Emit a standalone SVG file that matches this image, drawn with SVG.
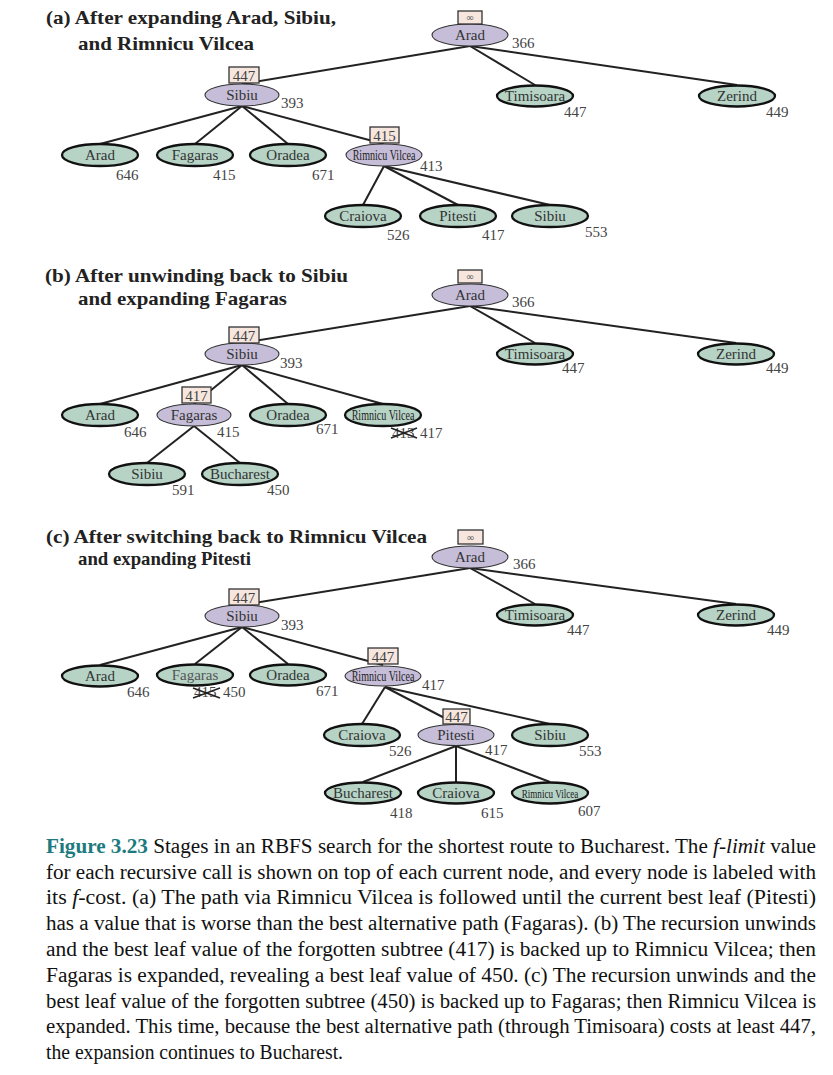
<svg xmlns="http://www.w3.org/2000/svg" width="833" height="1075" viewBox="0 0 833 1075">
<style>
.bg{fill:#ffffff}
.title{font-family:"Liberation Serif","Times New Roman",serif;font-weight:bold;font-size:19px;fill:#222}
.exp{fill:#c6bdd8;stroke:#333;stroke-width:1.1}
.leaf{fill:#b6d3c6;stroke:#111;stroke-width:2.3}
.lbl{font-family:"Liberation Serif","Times New Roman",serif;font-size:15px;fill:#333;text-anchor:middle}
.rv{font-family:"Liberation Serif","Times New Roman",serif;font-size:14px;fill:#222;text-anchor:middle}
.num{font-family:"Liberation Serif","Times New Roman",serif;font-size:15px;fill:#444}
.box{fill:#f6e6de;stroke:#333;stroke-width:1.3}
.boxt{font-family:"Liberation Serif","Times New Roman",serif;font-size:15px;fill:#444;text-anchor:middle}
.inf{font-family:"DejaVu Sans",sans-serif;font-size:10px;fill:#555;text-anchor:middle}
.edge{stroke:#222;stroke-width:2;fill:none}
.x{stroke:#222;stroke-width:1.6}
.cap{font-family:"Liberation Serif","Times New Roman",serif;font-size:20px;fill:#111}
.fig{font-weight:bold;fill:#1d7a7e}
</style>
<rect class="bg" x="0" y="0" width="833" height="1075"/>

<!-- ===== Panel (a) ===== -->
<g id="title-a">
<text class="title" x="46" y="24" textLength="290" lengthAdjust="spacingAndGlyphs">(a) After expanding Arad, Sibiu,</text>
<text class="title" x="78" y="50" textLength="176" lengthAdjust="spacingAndGlyphs">and Rimnicu Vilcea</text>
</g>
<g id="edges-a">
<line class="edge" x1="470" y1="46" x2="242" y2="84"/>
<line class="edge" x1="470" y1="46" x2="535" y2="85"/>
<line class="edge" x1="470" y1="46" x2="737" y2="85"/>
<line class="edge" x1="242" y1="106" x2="100" y2="144"/>
<line class="edge" x1="242" y1="106" x2="195" y2="144"/>
<line class="edge" x1="242" y1="106" x2="288" y2="144"/>
<line class="edge" x1="242" y1="106" x2="384" y2="144"/>
<line class="edge" x1="384" y1="166" x2="363" y2="205"/>
<line class="edge" x1="384" y1="166" x2="458" y2="205"/>
<line class="edge" x1="384" y1="166" x2="550" y2="205"/>
</g>
<g id="a-arad">
<ellipse class="exp" cx="470" cy="35" rx="38" ry="11"/>
<text class="lbl" x="470" y="40">Arad</text>
<rect class="box" x="458" y="11" width="24" height="13"/>
<text class="inf" x="470" y="21">∞</text>
<text class="num" x="512" y="48">366</text>
</g>
<g id="a-sibiu">
<ellipse class="exp" cx="242" cy="95" rx="37" ry="11"/>
<text class="lbl" x="242" y="100">Sibiu</text>
<rect class="box" x="229" y="67" width="30" height="16"/>
<text class="boxt" x="244" y="80.5">447</text>
<text class="num" x="281" y="108">393</text>
</g>
<g id="a-timisoara">
<ellipse class="leaf" cx="535" cy="96" rx="38" ry="10.5"/>
<text class="lbl" x="535" y="101">Timisoara</text>
<text class="num" x="564" y="117">447</text>
</g>
<g id="a-zerind">
<ellipse class="leaf" cx="737" cy="96" rx="38" ry="10.5"/>
<text class="lbl" x="737" y="101">Zerind</text>
<text class="num" x="766" y="117">449</text>
</g>
<g id="a-arad2">
<ellipse class="leaf" cx="100" cy="155" rx="38" ry="11"/>
<text class="lbl" x="100" y="160">Arad</text>
<text class="num" x="116" y="180">646</text>
</g>
<g id="a-fagaras">
<ellipse class="leaf" cx="195" cy="155" rx="38" ry="11"/>
<text class="lbl" x="195" y="160">Fagaras</text>
<text class="num" x="213" y="180">415</text>
</g>
<g id="a-oradea">
<ellipse class="leaf" cx="288" cy="155" rx="38" ry="11"/>
<text class="lbl" x="288" y="160">Oradea</text>
<text class="num" x="312" y="180">671</text>
</g>
<g id="a-rimnicu">
<ellipse class="exp" cx="384" cy="155" rx="38" ry="11"/>
<text class="rv" transform="translate(384 159.5) scale(0.72 1)" x="0" y="0">Rimnicu Vilcea</text>
<rect class="box" x="370" y="127" width="29" height="16"/>
<text class="boxt" x="384.5" y="140.5">415</text>
<text class="num" x="420" y="171">413</text>
</g>
<g id="a-craiova">
<ellipse class="leaf" cx="363" cy="216" rx="38" ry="11"/>
<text class="lbl" x="363" y="221">Craiova</text>
<text class="num" x="387" y="240">526</text>
</g>
<g id="a-pitesti">
<ellipse class="leaf" cx="458" cy="216" rx="38" ry="11"/>
<text class="lbl" x="458" y="221">Pitesti</text>
<text class="num" x="482" y="240">417</text>
</g>
<g id="a-sibiu2">
<ellipse class="leaf" cx="550" cy="216" rx="38" ry="11"/>
<text class="lbl" x="550" y="221">Sibiu</text>
<text class="num" x="585" y="237">553</text>
</g>

<!-- ===== Panel (b) ===== -->
<g id="title-b">
<text class="title" x="45" y="282" textLength="303" lengthAdjust="spacingAndGlyphs">(b) After unwinding back to Sibiu</text>
<text class="title" x="78" y="305" textLength="209" lengthAdjust="spacingAndGlyphs">and expanding Fagaras</text>
</g>
<g id="edges-b">
<line class="edge" x1="470" y1="306" x2="242" y2="343"/>
<line class="edge" x1="470" y1="306" x2="535" y2="343"/>
<line class="edge" x1="470" y1="306" x2="736" y2="343"/>
<line class="edge" x1="242" y1="365" x2="100" y2="404"/>
<line class="edge" x1="242" y1="365" x2="194" y2="404"/>
<line class="edge" x1="242" y1="365" x2="288" y2="404"/>
<line class="edge" x1="242" y1="365" x2="383" y2="404"/>
<line class="edge" x1="194" y1="426" x2="147" y2="463"/>
<line class="edge" x1="194" y1="426" x2="240" y2="463"/>
</g>
<g id="b-arad">
<ellipse class="exp" cx="470" cy="295" rx="38" ry="11"/>
<text class="lbl" x="470" y="300">Arad</text>
<rect class="box" x="458" y="270" width="24" height="13"/>
<text class="inf" x="470" y="280">∞</text>
<text class="num" x="512" y="307">366</text>
</g>
<g id="b-sibiu">
<ellipse class="exp" cx="242" cy="354" rx="37" ry="11"/>
<text class="lbl" x="242" y="359">Sibiu</text>
<rect class="box" x="229" y="327" width="30" height="16"/>
<text class="boxt" x="244" y="340.5">447</text>
<text class="num" x="280" y="368">393</text>
</g>
<g id="b-timisoara">
<ellipse class="leaf" cx="535" cy="354" rx="38" ry="10.5"/>
<text class="lbl" x="535" y="359">Timisoara</text>
<text class="num" x="562" y="373">447</text>
</g>
<g id="b-zerind">
<ellipse class="leaf" cx="736" cy="354" rx="38" ry="10.5"/>
<text class="lbl" x="736" y="359">Zerind</text>
<text class="num" x="766" y="373">449</text>
</g>
<g id="b-arad2">
<ellipse class="leaf" cx="100" cy="415" rx="38" ry="11"/>
<text class="lbl" x="100" y="420">Arad</text>
<text class="num" x="124" y="437">646</text>
</g>
<g id="b-fagaras">
<ellipse class="exp" cx="194" cy="415" rx="37" ry="11"/>
<text class="lbl" x="194" y="420">Fagaras</text>
<rect class="box" x="182" y="387" width="29" height="16"/>
<text class="boxt" x="196.5" y="400.5">417</text>
<text class="num" x="217" y="437">415</text>
</g>
<g id="b-oradea">
<ellipse class="leaf" cx="288" cy="415" rx="38" ry="11"/>
<text class="lbl" x="288" y="420">Oradea</text>
<text class="num" x="316" y="434">671</text>
</g>
<g id="b-rimnicu">
<ellipse class="leaf" cx="383" cy="415" rx="38" ry="11"/>
<text class="rv" transform="translate(383 419.5) scale(0.72 1)" x="0" y="0">Rimnicu Vilcea</text>
<text class="num" x="392" y="438">413</text>
<line class="x" x1="391" y1="428" x2="417" y2="438"/>
<line class="x" x1="391" y1="438" x2="417" y2="428"/>
<text class="num" x="420" y="438">417</text>
</g>
<g id="b-sibiu2">
<ellipse class="leaf" cx="147" cy="474" rx="38" ry="11"/>
<text class="lbl" x="147" y="479">Sibiu</text>
<text class="num" x="172" y="495">591</text>
</g>
<g id="b-bucharest">
<ellipse class="leaf" cx="240" cy="474" rx="38" ry="11"/>
<text class="lbl" x="240" y="479">Bucharest</text>
<text class="num" x="267" y="495">450</text>
</g>

<!-- ===== Panel (c) ===== -->
<g id="title-c">
<text class="title" x="46" y="543" textLength="381" lengthAdjust="spacingAndGlyphs">(c) After switching back to Rimnicu Vilcea</text>
<text class="title" x="78" y="565" textLength="173" lengthAdjust="spacingAndGlyphs">and expanding Pitesti</text>
</g>
<g id="edges-c">
<line class="edge" x1="470" y1="568" x2="242" y2="605"/>
<line class="edge" x1="470" y1="568" x2="535" y2="604"/>
<line class="edge" x1="470" y1="568" x2="736" y2="604"/>
<line class="edge" x1="242" y1="627" x2="100" y2="665"/>
<line class="edge" x1="242" y1="627" x2="195" y2="664"/>
<line class="edge" x1="242" y1="627" x2="288" y2="664"/>
<line class="edge" x1="242" y1="627" x2="383" y2="665"/>
<line class="edge" x1="385" y1="687" x2="362" y2="724"/>
<line class="edge" x1="385" y1="687" x2="456" y2="724"/>
<line class="edge" x1="385" y1="687" x2="550" y2="724"/>
<line class="edge" x1="456" y1="746" x2="363" y2="782"/>
<line class="edge" x1="456" y1="746" x2="456" y2="782"/>
<line class="edge" x1="456" y1="746" x2="550" y2="782"/>
</g>
<g id="c-arad">
<ellipse class="exp" cx="470" cy="557" rx="38" ry="11"/>
<text class="lbl" x="470" y="562">Arad</text>
<rect class="box" x="458" y="530" width="25" height="14"/>
<text class="inf" x="470.5" y="541">∞</text>
<text class="num" x="513" y="569">366</text>
</g>
<g id="c-sibiu">
<ellipse class="exp" cx="242" cy="616" rx="37" ry="11"/>
<text class="lbl" x="242" y="621">Sibiu</text>
<rect class="box" x="229" y="589" width="30" height="16"/>
<text class="boxt" x="244" y="602.5">447</text>
<text class="num" x="281" y="630">393</text>
</g>
<g id="c-timisoara">
<ellipse class="leaf" cx="535" cy="615" rx="38" ry="10.5"/>
<text class="lbl" x="535" y="620">Timisoara</text>
<text class="num" x="567" y="635">447</text>
</g>
<g id="c-zerind">
<ellipse class="leaf" cx="736" cy="615" rx="38" ry="10.5"/>
<text class="lbl" x="736" y="620">Zerind</text>
<text class="num" x="767" y="635">449</text>
</g>
<g id="c-arad2">
<ellipse class="leaf" cx="100" cy="676" rx="38" ry="10.5"/>
<text class="lbl" x="100" y="681">Arad</text>
<text class="num" x="127" y="697">646</text>
</g>
<g id="c-fagaras">
<ellipse class="leaf" cx="195" cy="675" rx="38" ry="10.5"/>
<text class="lbl" x="195" y="680" style="fill:#555">Fagaras</text>
<text class="num" x="194" y="697">415</text>
<line class="x" x1="193" y1="688" x2="220" y2="698"/>
<line class="x" x1="193" y1="698" x2="220" y2="688"/>
<text class="num" x="223" y="697">450</text>
</g>
<g id="c-oradea">
<ellipse class="leaf" cx="288" cy="675" rx="38" ry="10.5"/>
<text class="lbl" x="288" y="680">Oradea</text>
<text class="num" x="316" y="696">671</text>
</g>
<g id="c-rimnicu">
<ellipse class="exp" cx="383" cy="676" rx="38" ry="10"/>
<text class="rv" transform="translate(383 680.5) scale(0.72 1)" x="0" y="0">Rimnicu Vilcea</text>
<rect class="box" x="368" y="648" width="30" height="16"/>
<text class="boxt" x="383" y="661.5">447</text>
<text class="num" x="422" y="690">417</text>
</g>
<g id="c-craiova">
<ellipse class="leaf" cx="362" cy="735" rx="38" ry="11"/>
<text class="lbl" x="362" y="740">Craiova</text>
<text class="num" x="389" y="756">526</text>
</g>
<g id="c-pitesti">
<ellipse class="exp" cx="456" cy="735" rx="38" ry="10.5"/>
<text class="lbl" x="456" y="740">Pitesti</text>
<rect class="box" x="443" y="709" width="27" height="15"/>
<text class="boxt" x="456.5" y="721.5">447</text>
<text class="num" x="485" y="755">417</text>
</g>
<g id="c-sibiu2">
<ellipse class="leaf" cx="550" cy="735" rx="38" ry="11"/>
<text class="lbl" x="550" y="740">Sibiu</text>
<text class="num" x="579" y="756">553</text>
</g>
<g id="c-bucharest">
<ellipse class="leaf" cx="363" cy="793" rx="38" ry="10.5"/>
<text class="lbl" x="363" y="798">Bucharest</text>
<text class="num" x="390" y="818">418</text>
</g>
<g id="c-craiova2">
<ellipse class="leaf" cx="456" cy="793" rx="38" ry="10.5"/>
<text class="lbl" x="456" y="798">Craiova</text>
<text class="num" x="481" y="818">615</text>
</g>
<g id="c-rimnicu2">
<ellipse class="leaf" cx="550" cy="793" rx="38" ry="10.5"/>
<text class="rv" transform="translate(550 797.5) scale(0.7 1)" x="0" y="0" style="font-size:13px">Rimnicu Vilcea</text>
<text class="num" x="578" y="816">607</text>
</g>

<!-- ===== Caption ===== -->
<g id="caption">
<text class="cap" x="46" y="853" textLength="770" lengthAdjust="spacingAndGlyphs"><tspan class="fig">Figure 3.23</tspan>  Stages in an RBFS search for the shortest route to Bucharest. The <tspan font-style="italic">f</tspan>-<tspan font-style="italic">limit</tspan> value</text>
<text class="cap" x="46" y="879" textLength="770" lengthAdjust="spacingAndGlyphs">for each recursive call is shown on top of each current node, and every node is labeled with</text>
<text class="cap" x="46" y="904" textLength="770" lengthAdjust="spacingAndGlyphs">its <tspan font-style="italic">f</tspan>-cost.  (a) The path via Rimnicu Vilcea is followed until the current best leaf (Pitesti)</text>
<text class="cap" x="46" y="930" textLength="770" lengthAdjust="spacingAndGlyphs">has a value that is worse than the best alternative path (Fagaras). (b) The recursion unwinds</text>
<text class="cap" x="46" y="956" textLength="770" lengthAdjust="spacingAndGlyphs">and the best leaf value of the forgotten subtree (417) is backed up to Rimnicu Vilcea; then</text>
<text class="cap" x="46" y="982" textLength="770" lengthAdjust="spacingAndGlyphs">Fagaras is expanded, revealing a best leaf value of 450.  (c) The recursion unwinds and the</text>
<text class="cap" x="46" y="1008" textLength="770" lengthAdjust="spacingAndGlyphs">best leaf value of the forgotten subtree (450) is backed up to Fagaras; then Rimnicu Vilcea is</text>
<text class="cap" x="46" y="1033" textLength="770" lengthAdjust="spacingAndGlyphs">expanded. This time, because the best alternative path (through Timisoara) costs at least 447,</text>
<text class="cap" x="46" y="1059" textLength="297" lengthAdjust="spacingAndGlyphs">the expansion continues to Bucharest.</text>
</g>
</svg>
